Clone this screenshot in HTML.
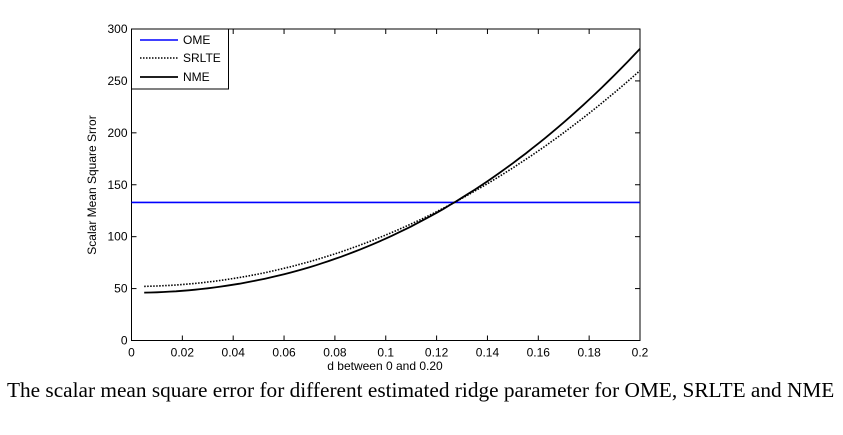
<!DOCTYPE html>
<html><head><style>
body{margin:0;background:#fff;width:843px;height:435px;overflow:hidden;position:relative}
svg{position:absolute;left:0;top:0}
.t{font-family:"Liberation Sans",sans-serif;font-size:12px;fill:#000}
#cap{position:absolute;left:7px;top:378px;font-family:"Liberation Serif",serif;font-size:21.3px;white-space:nowrap;color:#000}
</style></head><body>
<svg id="s" width="843" height="435" xmlns="http://www.w3.org/2000/svg">
<g id="g"></g>
<text class="t" x="385" y="370" text-anchor="middle">d   between 0 and 0.20</text>
<text class="t" transform="translate(96,185) rotate(-90)" text-anchor="middle" font-size="11">Scalar Mean Square Srror</text>
</svg>
<div id="cap">The scalar mean square error for different estimated ridge parameter for OME, SRLTE and NME</div>
<script>
var L=131.5,R=640,T=29,B=340.5;
function X(d){return L+(d/0.2)*(R-L);}
function Y(v){return B-(v/300)*(B-T);}
var h='';
h+='<rect x="'+L+'" y="'+T+'" width="'+(R-L)+'" height="'+(B-T)+'" fill="none" stroke="#000" stroke-width="1"/>';
for(var i=0;i<=10;i++){var d=i*0.02,x=X(d);
h+='<line x1="'+x+'" y1="'+B+'" x2="'+x+'" y2="'+(B-5)+'" stroke="#000"/>';
h+='<line x1="'+x+'" y1="'+T+'" x2="'+x+'" y2="'+(T+5)+'" stroke="#000"/>';
var lb=i==0?'0':(i==5?'0.1':(i==10?'0.2':d.toFixed(2)));
h+='<text class="t" x="'+x+'" y="'+(B+16)+'" text-anchor="middle">'+lb+'</text>';}
for(var v=0;v<=300;v+=50){var y=Y(v);
h+='<line x1="'+L+'" y1="'+y+'" x2="'+(L+5)+'" y2="'+y+'" stroke="#000"/>';
h+='<line x1="'+R+'" y1="'+y+'" x2="'+(R-5)+'" y2="'+y+'" stroke="#000"/>';
h+='<text class="t" x="'+(L-4)+'" y="'+(y+4)+'" text-anchor="end">'+v+'</text>';}
h+='<line x1="'+L+'" y1="'+Y(133)+'" x2="'+R+'" y2="'+Y(133)+'" stroke="#0000ff" stroke-width="1.6"/>';
function p(f){var s='';for(var d=0.005;d<=0.2001;d+=0.0025){s+=(s?'L':'M')+X(d).toFixed(1)+','+Y(f(d)).toFixed(1);}return s;}
h+='<path d="'+p(function(d){return 52+4713*d*d+2430*d*d*d;})+'" fill="none" stroke="#000" stroke-width="1.6" stroke-dasharray="1.5,1.5"/>';
h+='<path d="'+p(function(d){return 46+4559*d*d+6575*d*d*d;})+'" fill="none" stroke="#000" stroke-width="1.8"/>';
h+='<rect x="'+L+'" y="'+T+'" width="97" height="60" fill="#fff" stroke="#000"/>';
var ly=[40,58,77],nm=['OME','SRLTE','NME'];
for(var k=0;k<3;k++){var st=k==0?'stroke="#0000ff" stroke-width="1.6"':(k==1?'stroke="#000" stroke-width="1.6" stroke-dasharray="1.5,1.5"':'stroke="#000" stroke-width="1.8"');
h+='<line x1="140" y1="'+ly[k]+'" x2="178" y2="'+ly[k]+'" '+st+'/>';
h+='<text class="t" x="183" y="'+(ly[k]+4)+'">'+nm[k]+'</text>';}
document.getElementById('g').innerHTML=h;
</script>
</body></html>
